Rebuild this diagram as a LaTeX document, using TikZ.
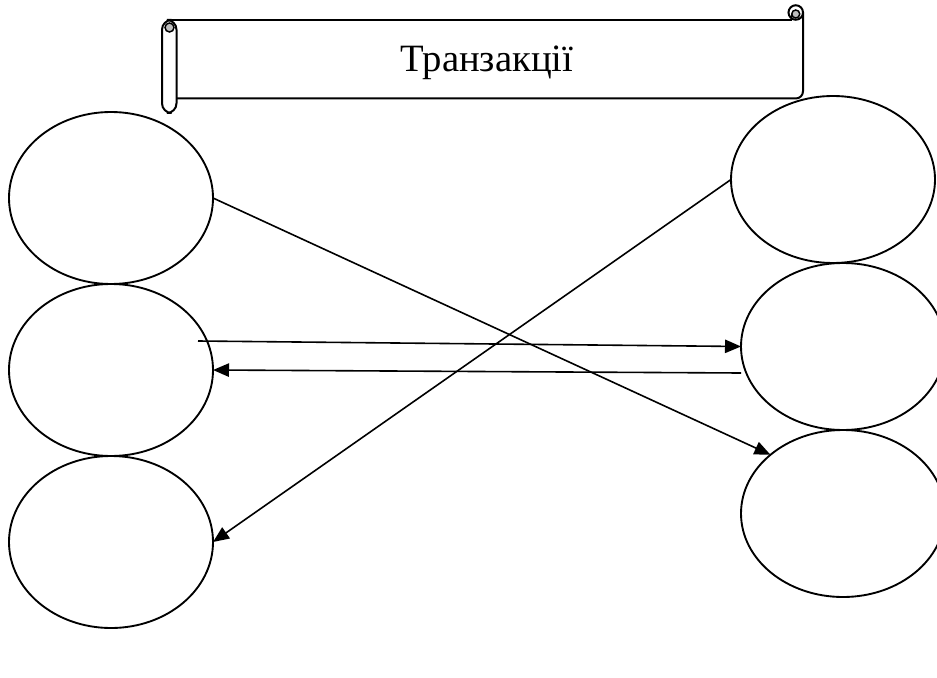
\documentclass[tikz,border=0pt]{standalone}
\usepackage{fontspec}
\setmainfont{Liberation Serif}
\usepackage{tikz}
\usetikzlibrary{arrows.meta,positioning,shapes.geometric}
\definecolor{curlgray}{RGB}{190,190,190}
\tikzstyle{arrow}=[-{Triangle[length=12pt,width=10pt]},line width=1.2pt,draw=black]
\tikzstyle{blobl}=[ellipse,draw=black,line width=1.4pt,fill=white,inner sep=0pt,outer sep=0pt,
                  minimum width=153pt,minimum height=129pt]
\tikzstyle{blobr}=[blobl,minimum height=125.25pt]
\tikzstyle{scroll}=[draw=black,line width=1.5pt]

\begin{document}
\begin{tikzpicture}[x=0.75pt,y=-0.75pt,node distance=0pt]
      \useasboundingbox (0,0) rectangle (937,677);
      % scroll banner
      \fill[white] (176.5,20) rectangle (803,98.5);
      \draw[scroll] (169.25,20) -- (792,20);
      \draw[scroll] (803,12.5) -- (803,91.25) arc[start angle=0,end angle=90,radius=7.25] -- (176.5,98.5);
      \draw[scroll,fill=white] (795.75,12.5) circle[radius=7.25];
      \draw[line width=1.1pt,fill=curlgray] (795.75,14) circle[radius=4];
      \draw[line width=1.1pt] (791.75,14) -- (791.75,20);
      \draw[scroll,fill=white,rounded corners=7.25] (162,20) rectangle (176.5,113);
      \draw[line width=1.1pt,fill=curlgray] (169.5,27.5) circle[radius=4.5];
      \node[font=\fontsize{29}{34}\selectfont] (title) at (487,63) {Транзакції};

      \node[blobl] (l1) at (111,198) {};
      \node[blobl,below=of l1] (l2) {};
      \node[blobl,below=of l2] (l3) {};
      \node[blobr] (r1) at (833,179.5) {};
      \node[blobr,below=of r1,xshift=7.5pt] (r2) {};
      \node[blobr,below=of r2] (r3) {};

      \coordinate (s3) at (198,341);
      \coordinate (e4) at (741,373);
      \draw[arrow] (l1.east)--(r3.141);
      \draw[arrow] (r1.west)--(l3.east);
      \draw[arrow] (s3)--(r2.west);
      \draw[arrow] (e4)--(l2.east);
    \end{tikzpicture}
\end{document}
